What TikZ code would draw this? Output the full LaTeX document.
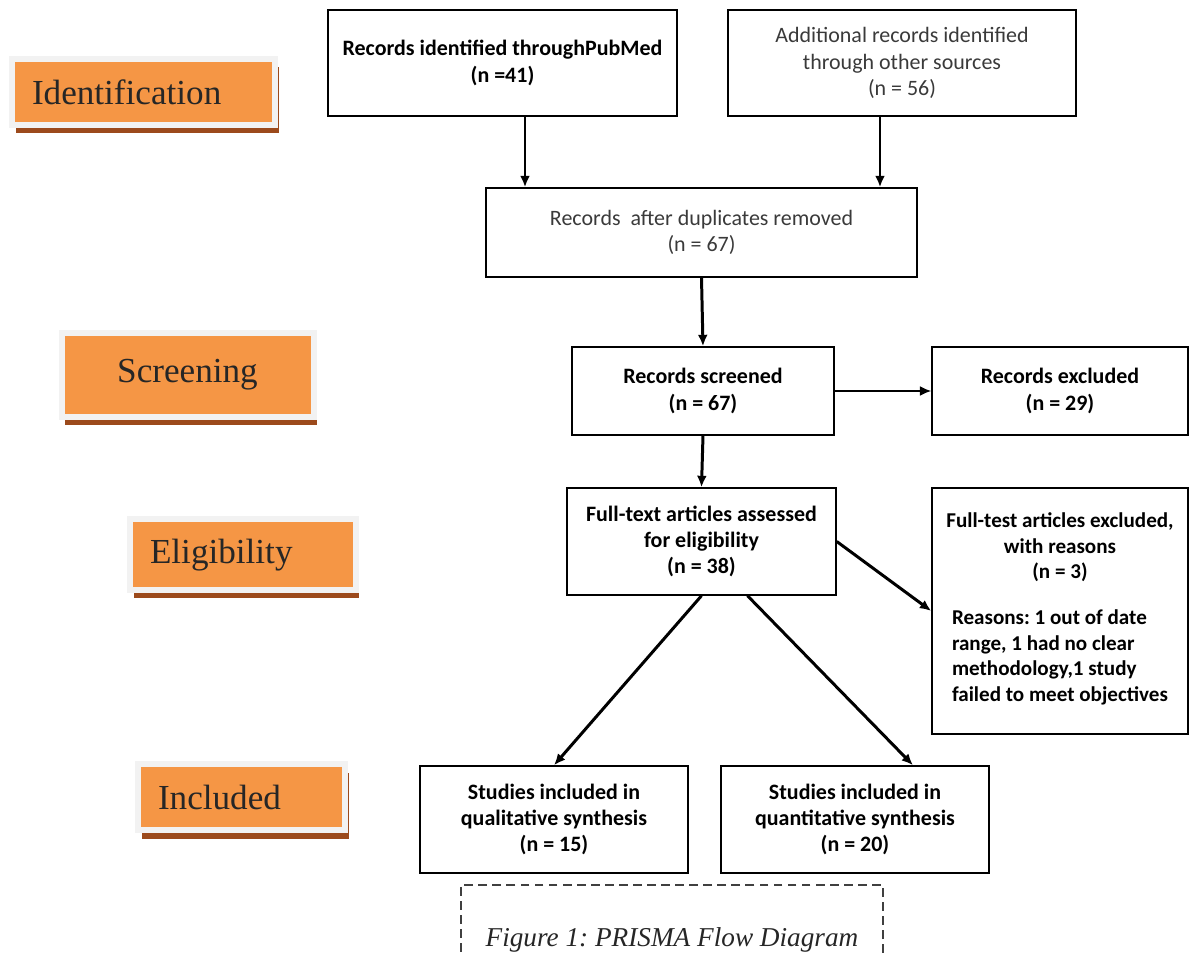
\documentclass[tikz,border=0pt]{standalone}
\usepackage{fontspec}
\setmainfont{Liberation Serif}
\setsansfont{Carlito}
\usepackage{xcolor}
\usetikzlibrary{positioning, arrows.meta, shadows}
\frenchspacing

\definecolor{stageorange}{HTML}{F59645}
\definecolor{stageframe}{HTML}{F2F2F2}
\definecolor{stageshadow}{HTML}{9C4A1C}
\definecolor{softtext}{HTML}{3A3A3A}

\tikzset{
  flowbox/.style={draw, line width=0.85pt, align=center, inner sep=2pt,
    font=\sffamily\bfseries\fontsize{12.5}{15}\selectfont},
  plainbox/.style={flowbox, text=softtext,
    font=\sffamily\fontsize{12.5}{15}\selectfont},
  stage/.style={fill=stageorange, draw=stageframe, line width=0.12cm,
    inner xsep=0.4cm, align=left, text=black!85,
    font=\fontsize{20}{24}\selectfont,
    drop shadow={shadow xshift=0.07cm, shadow yshift=-0.17cm, fill=stageshadow, opacity=1}},
  flow/.style={->, line width=1.7pt},
  thinflow/.style={->, line width=0.9pt},
}

\begin{document}
\begin{tikzpicture}[>={Latex[length=6.5pt,width=5.6pt]}]
    \useasboundingbox (0,0) rectangle (23.8,-19.06);

    % stages on the left
    \node[stage, text width=4.46cm, minimum height=1.32cm] (ident) at (2.87,-1.84) {Identification};
    \node[stage, text width=4.24cm, minimum height=1.67cm, align=center] (screen) at (3.75,-7.5) {Screening};
    \node[stage, text width=3.71cm, minimum height=1.41cm] (elig) at (4.855,-11.095) {Eligibility};
    \node[stage, text width=3.34cm, minimum height=1.32cm] (incl) at (4.83,-15.95) {Included};

    % flow boxes
    \node[flowbox, minimum width=6.98cm, minimum height=2.12cm] (pubmed) at (10.05,-1.26)
        {Records identified throughPubMed\\(n =41)};
    \node[plainbox, minimum width=6.96cm, minimum height=2.12cm] (other) at (18.04,-1.26)
        {Additional records identified\\through other sources\\(n = 56)};
    \node[plainbox, minimum width=8.62cm, minimum height=1.78cm] (dupl) at (14.03,-4.65)
        {Records\ \ after duplicates removed\\(n = 67)};
    \node[flowbox, minimum width=5.24cm, minimum height=1.76cm] (screened) at (14.06,-7.82)
        {Records screened\\(n = 67)};
    \node[flowbox, minimum width=5.12cm, minimum height=1.76cm] (excl) at (21.2,-7.82)
        {Records excluded\\(n = 29)};
    \node[flowbox, minimum width=5.38cm, minimum height=2.14cm] (fulltext) at (14.03,-10.83)
        {Full-text articles assessed\\for eligibility\\(n = 38)};
    \node[flowbox, minimum width=5.12cm, minimum height=4.92cm, font=\sffamily\bfseries\fontsize{12}{14.5}\selectfont] (ftexcl) at (21.2,-12.22)
        {Full-test articles excluded,\\with reasons\\(n = 3)\\[1.1em]
         \begin{tabular}{@{}l@{}}Reasons: 1 out of date\\range, 1 had no clear\\methodology,1 study\\failed to meet objectives\end{tabular}};
    \node[flowbox, minimum width=5.36cm, minimum height=2.14cm] (qual) at (11.08,-16.39)
        {Studies included in\\qualitative synthesis\\(n = 15)};
    \node[flowbox, minimum width=5.36cm, minimum height=2.14cm] (quant) at (17.1,-16.39)
        {Studies included in\\quantitative synthesis\\(n = 20)};

    % caption frame
    \node[draw=black!75, dash pattern=on 5pt off 3pt, line width=0.6pt,
          minimum width=8.44cm, minimum height=2.2cm, text=black!85,
          font=\itshape\fontsize{15.5}{18}\selectfont] (caption) at (13.44,-18.8)
        {Figure 1: PRISMA Flow Diagram};

    % connectors
    \coordinate (pm) at ([xshift=0.45cm]pubmed.south);
    \coordinate (ot) at ([xshift=-0.44cm]other.south);
    \draw[flow] (pm) -- (pm |- dupl.north);
    \draw[flow] (ot) -- (ot |- dupl.north);
    \draw[flow] (dupl.south) -- (screened.north);
    \draw[thinflow] (screened.east) -- (excl.west);
    \draw[flow] (screened.south) -- (fulltext.north);
    \draw[flow] (fulltext.east) -- (ftexcl.west);
    \draw[flow] (fulltext.south) -- (qual.north);
    \draw[flow] ([xshift=0.92cm]fulltext.south) -- ([xshift=1.16cm]quant.north);
\end{tikzpicture}
\end{document}
